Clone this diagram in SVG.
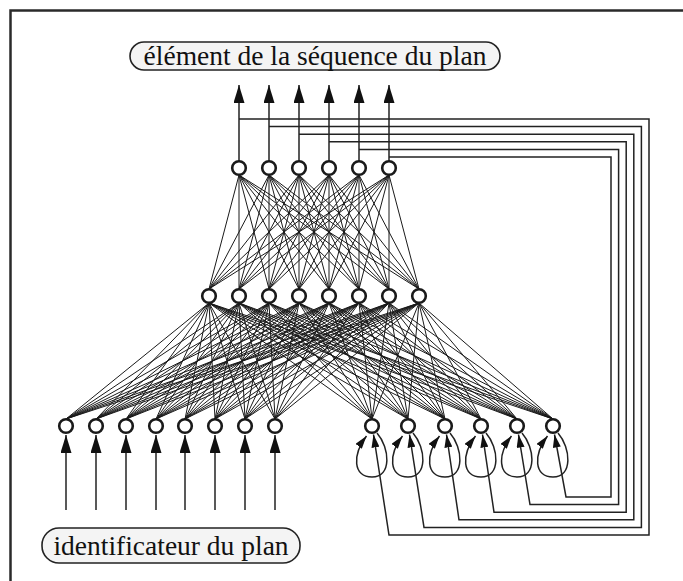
<svg xmlns="http://www.w3.org/2000/svg" width="683" height="581" viewBox="0 0 683 581">
<style>
.frame{fill:none;stroke:#2a2a2a;stroke-width:2.5}
.lbl{fill:#f4f4f4;stroke:#222;stroke-width:1.6}
.txt{font-family:"Liberation Serif","Times New Roman",serif;font-size:27.5px;fill:#111;text-anchor:middle}
.node{fill:#fff;stroke:#1a1a1a;stroke-width:2.6}
.w{fill:none;stroke:#1a1a1a;stroke-width:1}
.arr{fill:none;stroke:#222;stroke-width:1.5}
.fb{fill:none;stroke:#222;stroke-width:1.5}
</style>
<defs>
<marker id="ah" markerUnits="userSpaceOnUse" markerWidth="18" markerHeight="11" refX="18" refY="5.5" orient="auto">
<path d="M0,0 L18,5.5 L0,11 z" fill="#111"/>
</marker>
<marker id="as" markerUnits="userSpaceOnUse" markerWidth="13" markerHeight="8" refX="13" refY="4" orient="auto">
<path d="M0,0 L13,4 L0,8 z" fill="#111"/>
</marker>
</defs>
<rect width="683" height="581" fill="#fff"/>
<path class="frame" d="M10.5 581V10.5H683"/>

<g id="connectors">
<g id="hidden-to-output">
<path class="w" d="M209 289L239 175M209 289L269 175M209 289L299 175M209 289L329 175M209 289L359 175M209 289L389 175"/>
<path class="w" d="M239 289L239 175M239 289L269 175M239 289L299 175M239 289L329 175M239 289L359 175M239 289L389 175"/>
<path class="w" d="M269 289L239 175M269 289L269 175M269 289L299 175M269 289L329 175M269 289L359 175M269 289L389 175"/>
<path class="w" d="M299 289L239 175M299 289L269 175M299 289L299 175M299 289L329 175M299 289L359 175M299 289L389 175"/>
<path class="w" d="M329 289L239 175M329 289L269 175M329 289L299 175M329 289L329 175M329 289L359 175M329 289L389 175"/>
<path class="w" d="M359 289L239 175M359 289L269 175M359 289L299 175M359 289L329 175M359 289L359 175M359 289L389 175"/>
<path class="w" d="M389 289L239 175M389 289L269 175M389 289L299 175M389 289L329 175M389 289L359 175M389 289L389 175"/>
<path class="w" d="M419 289L239 175M419 289L269 175M419 289L299 175M419 289L329 175M419 289L359 175M419 289L389 175"/>
</g>
<g id="input-to-hidden">
<path class="w" d="M66 419L209 303M66 419L239 303M66 419L269 303M66 419L299 303M66 419L329 303M66 419L359 303M66 419L389 303M66 419L419 303"/>
<path class="w" d="M96 419L209 303M96 419L239 303M96 419L269 303M96 419L299 303M96 419L329 303M96 419L359 303M96 419L389 303M96 419L419 303"/>
<path class="w" d="M126 419L209 303M126 419L239 303M126 419L269 303M126 419L299 303M126 419L329 303M126 419L359 303M126 419L389 303M126 419L419 303"/>
<path class="w" d="M156 419L209 303M156 419L239 303M156 419L269 303M156 419L299 303M156 419L329 303M156 419L359 303M156 419L389 303M156 419L419 303"/>
<path class="w" d="M185 419L209 303M185 419L239 303M185 419L269 303M185 419L299 303M185 419L329 303M185 419L359 303M185 419L389 303M185 419L419 303"/>
<path class="w" d="M215 419L209 303M215 419L239 303M215 419L269 303M215 419L299 303M215 419L329 303M215 419L359 303M215 419L389 303M215 419L419 303"/>
<path class="w" d="M245 419L209 303M245 419L239 303M245 419L269 303M245 419L299 303M245 419L329 303M245 419L359 303M245 419L389 303M245 419L419 303"/>
<path class="w" d="M275 419L209 303M275 419L239 303M275 419L269 303M275 419L299 303M275 419L329 303M275 419L359 303M275 419L389 303M275 419L419 303"/>
<path class="w" d="M372 419L209 303M372 419L239 303M372 419L269 303M372 419L299 303M372 419L329 303M372 419L359 303M372 419L389 303M372 419L419 303"/>
<path class="w" d="M408 419L209 303M408 419L239 303M408 419L269 303M408 419L299 303M408 419L329 303M408 419L359 303M408 419L389 303M408 419L419 303"/>
<path class="w" d="M445 419L209 303M445 419L239 303M445 419L269 303M445 419L299 303M445 419L329 303M445 419L359 303M445 419L389 303M445 419L419 303"/>
<path class="w" d="M481 419L209 303M481 419L239 303M481 419L269 303M481 419L299 303M481 419L329 303M481 419L359 303M481 419L389 303M481 419L419 303"/>
<path class="w" d="M517 419L209 303M517 419L239 303M517 419L269 303M517 419L299 303M517 419L329 303M517 419L359 303M517 419L389 303M517 419L419 303"/>
<path class="w" d="M553 419L209 303M553 419L239 303M553 419L269 303M553 419L299 303M553 419L329 303M553 419L359 303M553 419L389 303M553 419L419 303"/>
</g>
<g id="output-arrows">
<path class="arr" marker-end="url(#ah)" d="M239 161V85"/>
<path class="arr" marker-end="url(#ah)" d="M269 161V85"/>
<path class="arr" marker-end="url(#ah)" d="M299 161V85"/>
<path class="arr" marker-end="url(#ah)" d="M329 161V85"/>
<path class="arr" marker-end="url(#ah)" d="M359 161V85"/>
<path class="arr" marker-end="url(#ah)" d="M389 161V85"/>
</g>
<g id="input-arrows">
<path class="arr" marker-end="url(#ah)" d="M66 510V435"/>
<path class="arr" marker-end="url(#ah)" d="M96 510V435"/>
<path class="arr" marker-end="url(#ah)" d="M126 510V435"/>
<path class="arr" marker-end="url(#ah)" d="M156 510V435"/>
<path class="arr" marker-end="url(#ah)" d="M185 510V435"/>
<path class="arr" marker-end="url(#ah)" d="M215 510V435"/>
<path class="arr" marker-end="url(#ah)" d="M245 510V435"/>
<path class="arr" marker-end="url(#ah)" d="M275 510V435"/>
</g>
<g id="feedback">
<path class="fb" marker-end="url(#as)" d="M239 119H649V535H389L373.5 434.5"/>
<path class="fb" marker-end="url(#as)" d="M269 126.6H641.4V527.4H424L409.5 434.5"/>
<path class="fb" marker-end="url(#as)" d="M299 134.2H633.8V519.8H459L446.5 434.5"/>
<path class="fb" marker-end="url(#as)" d="M329 141.8H626.2V512.2H494L482.5 434.5"/>
<path class="fb" marker-end="url(#as)" d="M359 149.4H618.6V504.6H530L518.5 434.5"/>
<path class="fb" marker-end="url(#as)" d="M389 157H611V497H566L554.5 434.5"/>
</g>
<g id="self-loops">
<path class="fb" marker-end="url(#as)" d="M377 433C390 448 392 477 372 477C353 477 352 455 366.5 436"/>
<path class="fb" marker-end="url(#as)" d="M413 433C426 448 428 477 408 477C389 477 388 455 402.5 436"/>
<path class="fb" marker-end="url(#as)" d="M450 433C463 448 465 477 445 477C426 477 425 455 439.5 436"/>
<path class="fb" marker-end="url(#as)" d="M486 433C499 448 501 477 481 477C462 477 461 455 475.5 436"/>
<path class="fb" marker-end="url(#as)" d="M522 433C535 448 537 477 517 477C498 477 497 455 511.5 436"/>
<path class="fb" marker-end="url(#as)" d="M558 433C571 448 573 477 553 477C534 477 533 455 547.5 436"/>
</g>
</g>

<g id="label-output">
<rect class="lbl" x="130" y="42" width="370" height="28" rx="14"/>
<text class="txt" x="315" y="65">élément de la séquence du plan</text>
</g>
<g id="label-input">
<rect class="lbl" x="42" y="528" width="258" height="35" rx="17"/>
<text class="txt" x="171" y="555">identificateur du plan</text>
</g>

<g id="output-layer">
<circle id="o1" class="node" cx="239" cy="168" r="6.8"/>
<circle id="o2" class="node" cx="269" cy="168" r="6.8"/>
<circle id="o3" class="node" cx="299" cy="168" r="6.8"/>
<circle id="o4" class="node" cx="329" cy="168" r="6.8"/>
<circle id="o5" class="node" cx="359" cy="168" r="6.8"/>
<circle id="o6" class="node" cx="389" cy="168" r="6.8"/>
</g>
<g id="hidden-layer">
<circle id="h1" class="node" cx="209" cy="296" r="6.8"/>
<circle id="h2" class="node" cx="239" cy="296" r="6.8"/>
<circle id="h3" class="node" cx="269" cy="296" r="6.8"/>
<circle id="h4" class="node" cx="299" cy="296" r="6.8"/>
<circle id="h5" class="node" cx="329" cy="296" r="6.8"/>
<circle id="h6" class="node" cx="359" cy="296" r="6.8"/>
<circle id="h7" class="node" cx="389" cy="296" r="6.8"/>
<circle id="h8" class="node" cx="419" cy="296" r="6.8"/>
</g>
<g id="input-layer">
<circle id="i1" class="node" cx="66" cy="426" r="6.8"/>
<circle id="i2" class="node" cx="96" cy="426" r="6.8"/>
<circle id="i3" class="node" cx="126" cy="426" r="6.8"/>
<circle id="i4" class="node" cx="156" cy="426" r="6.8"/>
<circle id="i5" class="node" cx="185" cy="426" r="6.8"/>
<circle id="i6" class="node" cx="215" cy="426" r="6.8"/>
<circle id="i7" class="node" cx="245" cy="426" r="6.8"/>
<circle id="i8" class="node" cx="275" cy="426" r="6.8"/>
</g>
<g id="context-layer">
<circle id="c1" class="node" cx="372" cy="426" r="6.8"/>
<circle id="c2" class="node" cx="408" cy="426" r="6.8"/>
<circle id="c3" class="node" cx="445" cy="426" r="6.8"/>
<circle id="c4" class="node" cx="481" cy="426" r="6.8"/>
<circle id="c5" class="node" cx="517" cy="426" r="6.8"/>
<circle id="c6" class="node" cx="553" cy="426" r="6.8"/>
</g>
</svg>
